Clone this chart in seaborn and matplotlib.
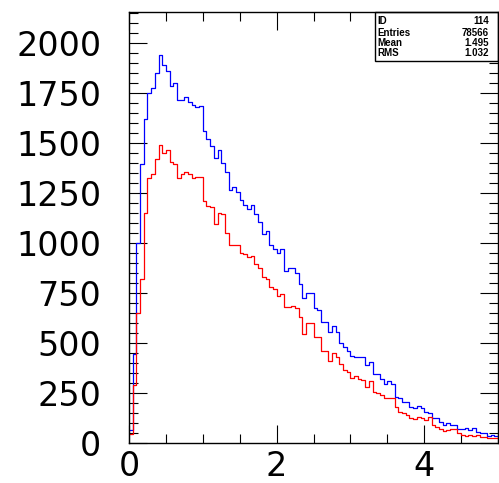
import numpy as np
import pandas as pd
import matplotlib
matplotlib.use("Agg")
import matplotlib.pyplot as plt
import seaborn as sns
from matplotlib.ticker import MultipleLocator, FixedLocator
from matplotlib.patches import Rectangle

# 100 bins from 0 to 5
bin_edges = [round(0.05 * i, 2) for i in range(101)]

blue_counts = [
    66, 446, 1000, 1396, 1623, 1753, 1778, 1850, 1940, 1891,
    1861, 1788, 1800, 1718, 1718, 1733, 1708, 1690, 1683, 1685,
    1561, 1523, 1488, 1425, 1466, 1400, 1355, 1266, 1281, 1258,
    1215, 1193, 1173, 1190, 1146, 1108, 1045, 1060, 992, 972,
    953, 972, 863, 875, 875, 850, 797, 728, 753, 753,
    677, 667, 608, 608, 558, 588, 558, 500, 483, 462,
    438, 430, 430, 433, 392, 405, 345, 345, 320, 295,
    312, 295, 233, 225, 208, 208, 183, 175, 188, 175,
    158, 150, 128, 125, 108, 92, 103, 92, 92, 70,
    70, 75, 67, 75, 58, 53, 53, 37, 42, 37,
]

red_counts = [
    45, 291, 650, 823, 1153, 1328, 1345, 1423, 1493, 1450,
    1467, 1405, 1397, 1328, 1345, 1357, 1345, 1327, 1332, 1332,
    1213, 1188, 1180, 1095, 1150, 1145, 1050, 992, 992, 992,
    950, 945, 933, 937, 897, 875, 833, 820, 782, 772,
    738, 745, 683, 683, 687, 675, 630, 547, 603, 603,
    530, 530, 462, 462, 413, 450, 430, 395, 367, 355,
    325, 338, 322, 317, 283, 312, 258, 250, 242, 225,
    225, 225, 180, 155, 150, 142, 128, 120, 133, 125,
    117, 133, 92, 83, 70, 62, 67, 70, 70, 50,
    42, 37, 42, 37, 42, 33, 33, 25, 25, 25,
]

stats_labels = ["ID", "Entries", "Mean", "RMS"]
stats_values = ["114", "78566", "1.495", "1.032"]

x_ticks = [0, 2, 4]
y_ticks = [0, 250, 500, 750, 1000, 1250, 1500, 1750, 2000]

edges = np.array(bin_edges)
centers = 0.5 * (edges[:-1] + edges[1:])
df = pd.DataFrame({"x": centers, "blue": blue_counts, "red": red_counts})

sns.set_style("white")
plt.rcParams["font.family"] = ["DejaVu Sans"]
plt.rcParams["text.color"] = "black"
plt.rcParams["xtick.color"] = "black"
plt.rcParams["ytick.color"] = "black"

W, H = 499, 483
fig = plt.figure(figsize=(W / 100, H / 100), dpi=100)
ax = fig.add_axes([129 / W, (H - 443.3) / H, (498 - 129) / W, (443.3 - 12) / H])

sns.histplot(x=df["x"], weights=df["blue"], bins=bin_edges, element="step",
             fill=False, color="#0000ff", linewidth=0.9, ax=ax)
sns.histplot(x=df["x"], weights=df["red"], bins=bin_edges, element="step",
             fill=False, color="#ff0000", linewidth=0.9, ax=ax)

ax.set_xlim(0, 5)
ax.set_ylim(0, 2156)
ax.set_xlabel("")
ax.set_ylabel("")

ax.xaxis.set_major_locator(FixedLocator(x_ticks))
ax.xaxis.set_minor_locator(MultipleLocator(0.5))
ax.yaxis.set_major_locator(FixedLocator(y_ticks))
ax.yaxis.set_minor_locator(MultipleLocator(50))
ax.set_xticklabels([str(v) for v in x_ticks])
ax.set_yticklabels([str(v) for v in y_ticks])

ax.tick_params(which="both", direction="in", top=True, right=True,
               bottom=True, left=True, width=0.8, color="black",
               labelcolor="black")
ax.tick_params(which="major", length=13)
ax.tick_params(which="minor", length=6.5)
ax.tick_params(axis="y", which="major", labelsize=24, pad=20)
ax.tick_params(axis="x", which="major", labelsize=24, pad=5)

for s in ax.spines.values():
    s.set_visible(True)
    s.set_color("black")
    s.set_linewidth(1.0)

# statistics box in the upper right corner
bx0 = (375 - 129) / (498 - 129)
by0 = (443.3 - 60.7) / (443.3 - 12)
ax.add_patch(Rectangle((bx0, by0), 1 - bx0, 1 - by0, transform=ax.transAxes,
                       facecolor="white", edgecolor="black", linewidth=1.0,
                       zorder=1.2, clip_on=False))
row_y = [21, 32.5, 43, 53.3]
for lab, val, py in zip(stats_labels, stats_values, row_y):
    fy = (H - py) / H
    fig.text(377 / W, fy, lab, fontsize=7, fontweight="bold",
             family=["Liberation Sans", "DejaVu Sans"], va="center", ha="left")
    fig.text(489 / W, fy, val, fontsize=7, fontweight="bold",
             family=["Liberation Sans", "DejaVu Sans"], va="center", ha="right")

fig.savefig("out.png", dpi=100)
